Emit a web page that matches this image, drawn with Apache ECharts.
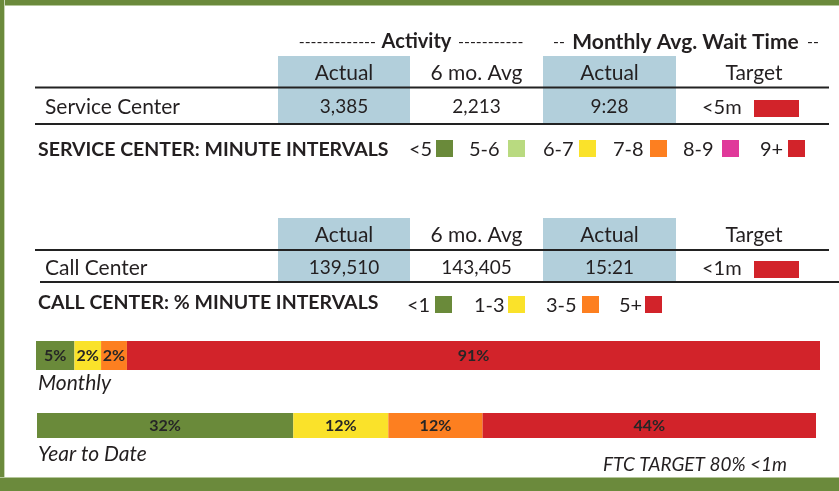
<!DOCTYPE html>
<html>
<head>
<meta charset="utf-8">
<script src="https://cdn.jsdelivr.net/npm/echarts@6/dist/echarts.min.js"></script>
<style>
html,body{margin:0;padding:0;background:#fff;}
#chart{width:839px;height:491px;}
</style>
</head>
<body>
<div id="chart"></div>
<script>
// ---- data ----
var colHeaders = ['Actual', '6 mo. Avg', 'Actual', 'Target'];
var serviceRow = ['Service Center', '3,385', '2,213', '9:28', '<5m'];
var callRow = ['Call Center', '139,510', '143,405', '15:21', '<1m'];
var serviceLegend = ['<5', '5-6', '6-7', '7-8', '8-9', '9+'];
var callLegend = ['<1', '1-3', '3-5', '5+'];
var barRows = ['Monthly', 'Year to Date'];
// segment lengths as drawn in the picture (percent of bar)
var monthlyShare = [4.9, 3.4, 3.3, 88.4];
var monthlyLabels = ['5%', '2%', '2%', '91%'];
var ytdShare = [32.9, 12.2, 12.1, 42.8];
var ytdLabels = ['32%', '12%', '12%', '44%'];

// ---- styles ----
var serviceColors = ['#6a8a3a', '#b9da80', '#fae22a', '#fd7f20', '#e0399a', '#d2232a'];
var callColors = ['#6a8a3a', '#fae22a', '#fd7f20', '#d2232a'];
var INK = '#231f20';
var BLUE = '#b2cfdb';
var FONT = 'Lato';

function txt(s, x, y, opt) {
  opt = opt || {};
  return {
    type: 'text', z: 10,
    style: {
      text: s, x: x, y: y,
      fill: opt.fill || INK,
      font: (opt.style || 'normal') + ' ' + (opt.weight || 'normal') + ' ' + (opt.size || 19) + 'px ' + FONT,
      textAlign: opt.align || 'center',
      textVerticalAlign: 'middle'
    }
  };
}
function rect(x, y, w, h, fill, z) {
  return { type: 'rect', z: z || 1, shape: { x: x, y: y, width: w, height: h }, style: { fill: fill } };
}
function hline(x1, x2, y, w) {
  return { type: 'line', z: 5, shape: { x1: x1, y1: y, x2: x2, y2: y }, style: { stroke: '#222', lineWidth: w || 2 } };
}

var g = [];
// frame
g.push(rect(0, 0, 839, 5, '#6b8a3c', 20));
g.push(rect(0, 5, 839, 1, '#b5c79b', 20));
g.push(rect(0, 0, 4, 491, '#6b8a3c', 20));
g.push(rect(4, 0, 1, 491, '#c9d6b5', 20));
g.push(rect(0, 477, 839, 1, '#b5c79b', 20));
g.push(rect(0, 478, 839, 13, '#6b8a3c', 20));

// top headers
g.push(txt('-------------', 376, 42, { align: 'right', size: 16 }));
g.push(txt('Activity', 416.5, 42, { weight: 'bold', size: 20 }));
g.push(txt('-----------', 458, 42, { align: 'left', size: 16 }));
g.push(txt('--', 553, 42, { align: 'left', size: 16 }));
g.push(txt('Monthly Avg. Wait Time', 685.5, 42, { weight: 'bold', size: 21 }));
g.push(txt('--', 807, 42, { align: 'left', size: 16 }));

var colX = [344, 476.5, 609.5, 754];
function table(top, bottom, headY, lineY, rowY, botLine, botX1, botX2, row) {
  g.push(rect(278, top, 132, bottom - top, BLUE));
  g.push(rect(543, top, 133, bottom - top, BLUE));
  for (var i = 0; i < colHeaders.length; i++) g.push(txt(colHeaders[i], colX[i], headY, { size: 21 }));
  g.push(hline(35, 829, lineY));
  g.push(txt(row[0], 45, rowY, { align: 'left', size: 21 }));
  g.push(txt(row[1], colX[0], rowY, { size: 19 }));
  g.push(txt(row[2], colX[1], rowY, { size: 19 }));
  g.push(txt(row[3], colX[2], rowY, { size: 19 }));
  g.push(txt(row[4], 702, rowY + 1, { align: 'left', size: 20 }));
  g.push(rect(754, rowY - 7, 45, 17, '#d2232a', 6));
  g.push(hline(botX1, botX2, botLine));
}
table(56, 124, 73, 87.5, 107, 124, 35, 829, serviceRow);
table(218, 282, 235, 250, 268, 282, 40, 839, callRow);

// legends
g.push(txt('SERVICE CENTER: MINUTE INTERVALS', 38, 150, { align: 'left', weight: 'bold', size: 19.5 }));
var sTextX = [409, 469, 543, 613, 683, 760];
var sSqX = [436, 508, 579, 650, 722, 788];
for (var i = 0; i < serviceLegend.length; i++) {
  g.push(txt(serviceLegend[i], sTextX[i], 150, { align: 'left', size: 20 }));
  g.push(rect(sSqX[i], 140, 17, 17, serviceColors[i], 6));
}
g.push(txt('CALL CENTER: % MINUTE INTERVALS', 38, 303, { align: 'left', weight: 'bold', size: 19.5 }));
var cTextX = [407, 474, 546, 619];
var cSqX = [435, 508, 582, 645];
for (var i = 0; i < callLegend.length; i++) {
  g.push(txt(callLegend[i], cTextX[i], 306, { align: 'left', size: 20 }));
  g.push(rect(cSqX[i], 296, 17, 17, callColors[i], 6));
}

// bar captions
g.push(txt(barRows[0], 38, 383, { align: 'left', style: 'italic', size: 21 }));
g.push(txt(barRows[1], 38, 454, { align: 'left', style: 'italic', size: 21 }));
g.push(txt('FTC TARGET 80% <1m', 787, 465, { align: 'right', style: 'italic', size: 19 }));

// bar series
var series = [];
function addSeries(values, labels, idx) {
  for (var i = 0; i < values.length; i++) {
    (function (lab) {
      series.push({
        type: 'bar', name: callLegend[i], stack: 's' + idx,
        xAxisIndex: idx, yAxisIndex: idx,
        barWidth: '100%',
        data: [values[i]],
        itemStyle: { color: callColors[i] },
        label: {
          show: true, position: 'inside',
          formatter: function () { return lab; },
          color: '#262626', fontFamily: FONT, fontWeight: 'bold', fontSize: 16
        },
        silent: true, animation: false
      });
    })(labels[i]);
  }
}
addSeries(monthlyShare, monthlyLabels, 0);
addSeries(ytdShare, ytdLabels, 1);

var chart = echarts.init(document.getElementById('chart'));
chart.setOption({
  animation: false,
  grid: [
    { left: 36, top: 341, width: 784, height: 29 },
    { left: 37, top: 413, width: 779, height: 25 }
  ],
  xAxis: [
    { gridIndex: 0, type: 'value', min: 0, max: 100, show: false },
    { gridIndex: 1, type: 'value', min: 0, max: 100, show: false }
  ],
  yAxis: [
    { gridIndex: 0, type: 'category', data: [barRows[0]], show: false },
    { gridIndex: 1, type: 'category', data: [barRows[1]], show: false }
  ],
  series: series,
  graphic: { elements: g }
});
</script>
</body>
</html>
